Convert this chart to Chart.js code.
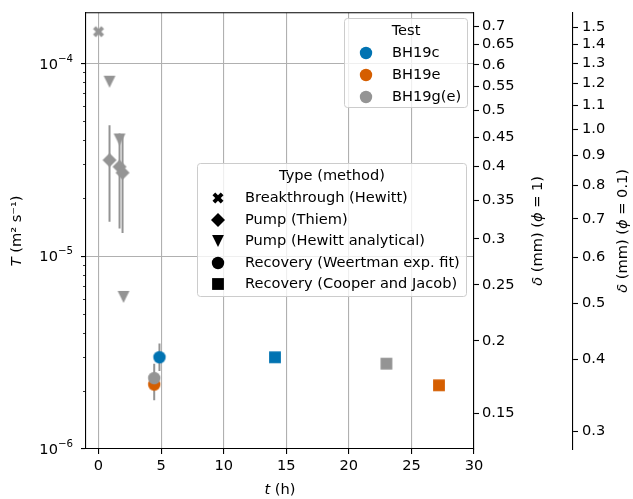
<!DOCTYPE html>
<html>
<head>
<meta charset="utf-8">
<script src="https://cdn.jsdelivr.net/npm/chart.js@4.4.0/dist/chart.umd.min.js"></script>
<style>
  html, body { margin: 0; padding: 0; background: #fff; }
  #wrap { width: 633px; height: 499px; }
</style>
</head>
<body>
<div id="wrap"><canvas id="chart" width="633" height="499"></canvas></div>
<script>
// tests (wells) and methods
const tests = ["BH19c", "BH19e", "BH19g(e)"];
const testColors = ["#0173b2", "#d55e00", "#949494"];
const methods = ["Breakthrough (Hewitt)", "Pump (Thiem)", "Pump (Hewitt analytical)",
  "Recovery (Weertman exp. fit)", "Recovery (Cooper and Jacob)"];
const methodShapes = ["X", "D", "v", "o", "s"];

// values: t (h), T (m2 s-1), error bounds
const breakG_t = [0];
const breakG_T = [1.46e-4];

const thiemG_t = [0.88, 1.68, 1.92];
const thiemG_T = [3.15e-5, 2.91e-5, 2.71e-5];
const thiemG_lo = [1.51e-5, 1.39e-5, 1.32e-5];
const thiemG_hi = [4.78e-5, 4.33e-5, 4.26e-5];

const hewittG_t = [0.88, 1.68, 2.0];
const hewittG_T = [8.03e-5, 4.03e-5, 6.15e-6];

const weertC_t = [4.87];
const weertC_T = [2.99e-6];
const weertC_lo = [2.54e-6];
const weertC_hi = [3.52e-6];
const weertE_t = [4.45];
const weertE_T = [2.16e-6];
const weertG_t = [4.45];
const weertG_T = [2.33e-6];
const weertG_lo = [1.79e-6];
const weertG_hi = [2.77e-6];

const cooperC_t = [14.1];
const cooperC_T = [2.99e-6];
const cooperE_t = [27.2];
const cooperE_T = [2.14e-6];
const cooperG_t = [23.0];
const cooperG_T = [2.77e-6];

// axes
const xTicks = [0, 5, 10, 15, 20, 25, 30];
const deltaTicks1 = [0.15, 0.2, 0.25, 0.3, 0.35, 0.4, 0.45, 0.5, 0.55, 0.6, 0.65, 0.7];
const deltaTicks2 = [0.3, 0.4, 0.5, 0.6, 0.7, 0.8, 0.9, 1.0, 1.1, 1.2, 1.3, 1.4, 1.5];
const T_MIN = 1e-6, T_MAX = 1.83e-4;
const X_MIN = -1, X_MAX = 30;
// delta (mm) = c * T^(1/3)
const C_PHI1 = 13.0, C_PHI01 = 28.0;

const FAMILY = "'DejaVu Sans', sans-serif";
const FS = 14.6;
const GRID = "#b0b0b0";

function makeMarker(shape, color) {
  const n = 18;
  const cv = document.createElement("canvas");
  cv.width = n; cv.height = n;
  const g = cv.getContext("2d");
  g.translate(n / 2, n / 2);
  g.fillStyle = color;
  g.beginPath();
  if (shape === "o") {
    g.arc(0, 0, 6.2, 0, Math.PI * 2);
  } else if (shape === "s") {
    g.rect(-5.9, -5.9, 11.8, 11.8);
  } else if (shape === "D") {
    g.moveTo(0, -7); g.lineTo(7, 0); g.lineTo(0, 7); g.lineTo(-7, 0);
  } else if (shape === "v") {
    g.moveTo(-5.9, -5.9); g.lineTo(5.9, -5.9); g.lineTo(0, 5.9);
  } else if (shape === "X") {
    const p = [[-1, -2], [0, -1], [1, -2], [2, -1], [1, 0], [2, 1], [1, 2], [0, 1], [-1, 2], [-2, 1], [-1, 0], [-2, -1]];
    p.forEach((q, i) => i ? g.lineTo(q[0] * 2.75, q[1] * 2.75) : g.moveTo(q[0] * 2.75, q[1] * 2.75));
  }
  g.closePath();
  g.fill();
  return cv;
}

function pts(t, T) {
  return t.map((x, i) => ({ x: x, y: T[i] }));
}

function ds(t, T, shape, color) {
  return { data: pts(t, T), pointStyle: makeMarker(shape, color), pointRadius: 6, showLine: false };
}

// top-most first
const datasets = [
  ds(weertC_t, weertC_T, "o", testColors[0]),
  ds(weertG_t, weertG_T, "o", testColors[2]),
  ds(weertE_t, weertE_T, "o", testColors[1]),
  ds(cooperC_t, cooperC_T, "s", testColors[0]),
  ds(cooperE_t, cooperE_T, "s", testColors[1]),
  ds(cooperG_t, cooperG_T, "s", testColors[2]),
  ds(hewittG_t, hewittG_T, "v", testColors[2]),
  ds(thiemG_t, thiemG_T, "D", testColors[2]),
  ds(breakG_t, breakG_T, "X", testColors[2])
];
datasets.forEach((d, i) => d.order = i);

const errorSets = [
  [thiemG_t, thiemG_lo, thiemG_hi],
  [weertC_t, weertC_lo, weertC_hi],
  [weertG_t, weertG_lo, weertG_hi]
];

function isMajor(v) {
  const e = Math.round(Math.log10(v));
  return Math.abs(v / Math.pow(10, e) - 1) < 1e-6;
}

function font(style, size) {
  return (style || "normal") + " " + (size || FS) + "px " + FAMILY;
}

function drawRich(ctx, parts, x, y, angle) {
  ctx.save();
  ctx.translate(x, y);
  ctx.rotate(angle);
  ctx.textBaseline = "middle";
  ctx.textAlign = "left";
  ctx.fillStyle = "#000";
  let w = 0;
  parts.forEach(p => { ctx.font = font(p[1]); w += ctx.measureText(p[0]).width; });
  let cx = -w / 2;
  parts.forEach(p => {
    ctx.font = font(p[1]);
    ctx.fillText(p[0], cx, 0);
    cx += ctx.measureText(p[0]).width;
  });
  ctx.restore();
}

// "10" with a raised exponent, right aligned at xr and centred on py
function drawPow(ctx, exp, xr, py) {
  const main = "10", sup = "\u2212" + Math.abs(exp);
  const small = FS * 0.7;
  ctx.save();
  ctx.fillStyle = "#000";
  ctx.textAlign = "left";
  ctx.textBaseline = "alphabetic";
  ctx.font = font("normal", small);
  const w2 = ctx.measureText(sup).width;
  ctx.font = font("normal", FS);
  const w1 = ctx.measureText(main).width;
  const base = py + FS * 0.364;
  ctx.fillText(main, xr - w2 - w1, base);
  ctx.font = font("normal", small);
  ctx.fillText(sup, xr - w2, base - FS * 0.48);
  ctx.restore();
}

function drawBox(ctx, x, y, w, h) {
  const r = 3;
  ctx.save();
  ctx.beginPath();
  ctx.moveTo(x + r, y);
  ctx.lineTo(x + w - r, y); ctx.arcTo(x + w, y, x + w, y + r, r);
  ctx.lineTo(x + w, y + h - r); ctx.arcTo(x + w, y + h, x + w - r, y + h, r);
  ctx.lineTo(x + r, y + h); ctx.arcTo(x, y + h, x, y + h - r, r);
  ctx.lineTo(x, y + r); ctx.arcTo(x, y, x + r, y, r);
  ctx.closePath();
  ctx.fillStyle = "rgba(255,255,255,0.8)";
  ctx.fill();
  ctx.strokeStyle = "#cccccc";
  ctx.lineWidth = 1;
  ctx.stroke();
  ctx.restore();
}

function drawLegend(ctx, box, title, titleX, titleY, mx, tx, ys, labels, markers) {
  drawBox(ctx, box[0], box[1], box[2], box[3]);
  ctx.save();
  ctx.fillStyle = "#000";
  ctx.font = font();
  ctx.textBaseline = "middle";
  ctx.textAlign = "center";
  ctx.fillText(title, titleX, titleY);
  ctx.textAlign = "left";
  labels.forEach((lab, i) => {
    const m = markers[i];
    ctx.drawImage(m, mx - m.width / 2, ys[i] - m.height / 2);
    ctx.fillText(lab, tx, ys[i]);
  });
  ctx.restore();
}

const errorBars = {
  id: "errorBars",
  beforeDatasetsDraw(chart) {
    const ctx = chart.ctx, xs = chart.scales.x, ys = chart.scales.y, a = chart.chartArea;
    ctx.save();
    ctx.beginPath();
    ctx.rect(a.left, a.top, a.right - a.left, a.bottom - a.top);
    ctx.clip();
    ctx.strokeStyle = "#949494";
    ctx.lineWidth = 2;
    errorSets.forEach(set => {
      set[0].forEach((t, i) => {
        const px = xs.getPixelForValue(t);
        ctx.beginPath();
        ctx.moveTo(px, ys.getPixelForValue(set[1][i]));
        ctx.lineTo(px, ys.getPixelForValue(set[2][i]));
        ctx.stroke();
      });
    });
    ctx.restore();
  }
};

const decorations = {
  id: "decorations",
  afterDraw(chart) {
    const ctx = chart.ctx, a = chart.chartArea, y = chart.scales.y;
    ctx.save();
    // top spine
    ctx.strokeStyle = "#000";
    ctx.lineWidth = 1.1;
    ctx.beginPath();
    ctx.moveTo(a.left, a.top);
    ctx.lineTo(a.right, a.top);
    ctx.stroke();
    // minor ticks on log axis
    ctx.lineWidth = 0.8;
    y.ticks.forEach(tk => {
      if (isMajor(tk.value)) return;
      const py = Math.round(y.getPixelForValue(tk.value)) + 0.5;
      ctx.beginPath();
      ctx.moveTo(a.left - 3, py);
      ctx.lineTo(a.left, py);
      ctx.stroke();
    });
    ctx.restore();
    // major tick labels 10^n
    y.ticks.forEach(tk => {
      if (!isMajor(tk.value)) return;
      drawPow(ctx, Math.round(Math.log10(tk.value)), a.left - 13, y.getPixelForValue(tk.value));
    });

    // axis titles
    const midY = (a.top + a.bottom) / 2;
    drawRich(ctx, [["T", "italic"], [" (m\u00B2 s\u207B\u00B9)", "normal"]], 17, midY, -Math.PI / 2);
    drawRich(ctx, [["t", "italic"], [" (h)", "normal"]], (a.left + a.right) / 2, 490, 0);
    drawRich(ctx, [["\u03B4", "italic"], [" (mm) (", "normal"], ["\u03D5", "italic"], [" = 1)", "normal"]],
      chart.scales.d1.left + 64, midY, -Math.PI / 2);
    drawRich(ctx, [["\u03B4", "italic"], [" (mm) (", "normal"], ["\u03D5", "italic"], [" = 0.1)", "normal"]],
      chart.scales.d2.left + 50, midY, -Math.PI / 2);

    // legends
    drawLegend(ctx, [344.5, 18.5, 123, 89], "Test", 406, 31, 366, 392, [53, 75, 97], tests,
      testColors.map(c => makeMarker("o", c)));
    drawLegend(ctx, [197.5, 163.5, 269, 133], "Type (method)", 332, 176, 218, 245,
      [198, 220, 241, 263, 284], methods, methodShapes.map(s => makeMarker(s, "#000")));
  }
};

const tickFont = { family: FAMILY, size: FS };

new Chart(document.getElementById("chart"), {
  type: "scatter",
  data: { datasets: datasets },
  options: {
    responsive: false,
    animation: false,
    events: [],
    layout: { padding: { top: 10, left: 0, right: 0, bottom: 0 } },
    plugins: { legend: { display: false }, tooltip: { enabled: false } },
    scales: {
      x: {
        type: "linear", position: "bottom", min: X_MIN, max: X_MAX, bounds: "data",
        afterBuildTicks: s => { s.ticks = xTicks.map(v => ({ value: v })); },
        afterFit: s => { s.height = 50; },
        ticks: { font: tickFont, color: "#000", padding: 3, autoSkip: false, maxRotation: 0 },
        grid: { color: GRID, lineWidth: 1.1, tickColor: "#000", tickLength: 5, tickWidth: 1.1 },
        border: { color: "#000", width: 1.1 }
      },
      y: {
        type: "logarithmic", position: "left", min: T_MIN, max: T_MAX, bounds: "data",
        afterBuildTicks: s => {
          const t = [];
          for (let e = -6; e <= -4; e++) {
            for (let m = 1; m <= 9; m++) {
              const v = m * Math.pow(10, e);
              if (v >= T_MIN * 0.999 && v <= T_MAX) t.push({ value: v, major: m === 1 });
            }
          }
          s.ticks = t;
        },
        afterFit: s => { s.width = 86; },
        ticks: { font: tickFont, color: "#000", autoSkip: false, callback: () => "" },
        grid: {
          color: c => (c.tick && isMajor(c.tick.value)) ? GRID : "rgba(0,0,0,0)",
          tickColor: c => (c.tick && isMajor(c.tick.value)) ? "#000" : "rgba(0,0,0,0)",
          lineWidth: 1.1, tickLength: 5, tickWidth: 1.1
        },
        border: { color: "#000", width: 1.1 }
      },
      d1: {
        type: "logarithmic", position: "right", weight: 0, bounds: "data",
        min: C_PHI1 * Math.cbrt(T_MIN), max: C_PHI1 * Math.cbrt(T_MAX),
        afterBuildTicks: s => { s.ticks = deltaTicks1.map(v => ({ value: v })); },
        afterFit: s => { s.width = 99; },
        ticks: { font: tickFont, color: "#000", padding: 3, autoSkip: false, callback: v => String(v) },
        grid: { drawOnChartArea: false, tickColor: "#000", tickLength: 5, tickWidth: 1.1 },
        border: { color: "#000", width: 1.1 }
      },
      d2: {
        type: "logarithmic", position: "right", weight: 1, bounds: "data",
        min: C_PHI01 * Math.cbrt(T_MIN), max: C_PHI01 * Math.cbrt(T_MAX),
        afterBuildTicks: s => { s.ticks = deltaTicks2.map(v => ({ value: v })); },
        afterFit: s => { s.width = 60; },
        ticks: { font: tickFont, color: "#000", padding: 4, autoSkip: false, callback: v => v.toFixed(1) },
        grid: { drawOnChartArea: false, tickColor: "#000", tickLength: 5, tickWidth: 1.1 },
        border: { color: "#000", width: 1.1 }
      }
    }
  },
  plugins: [errorBars, decorations]
});
</script>
</body>
</html>
